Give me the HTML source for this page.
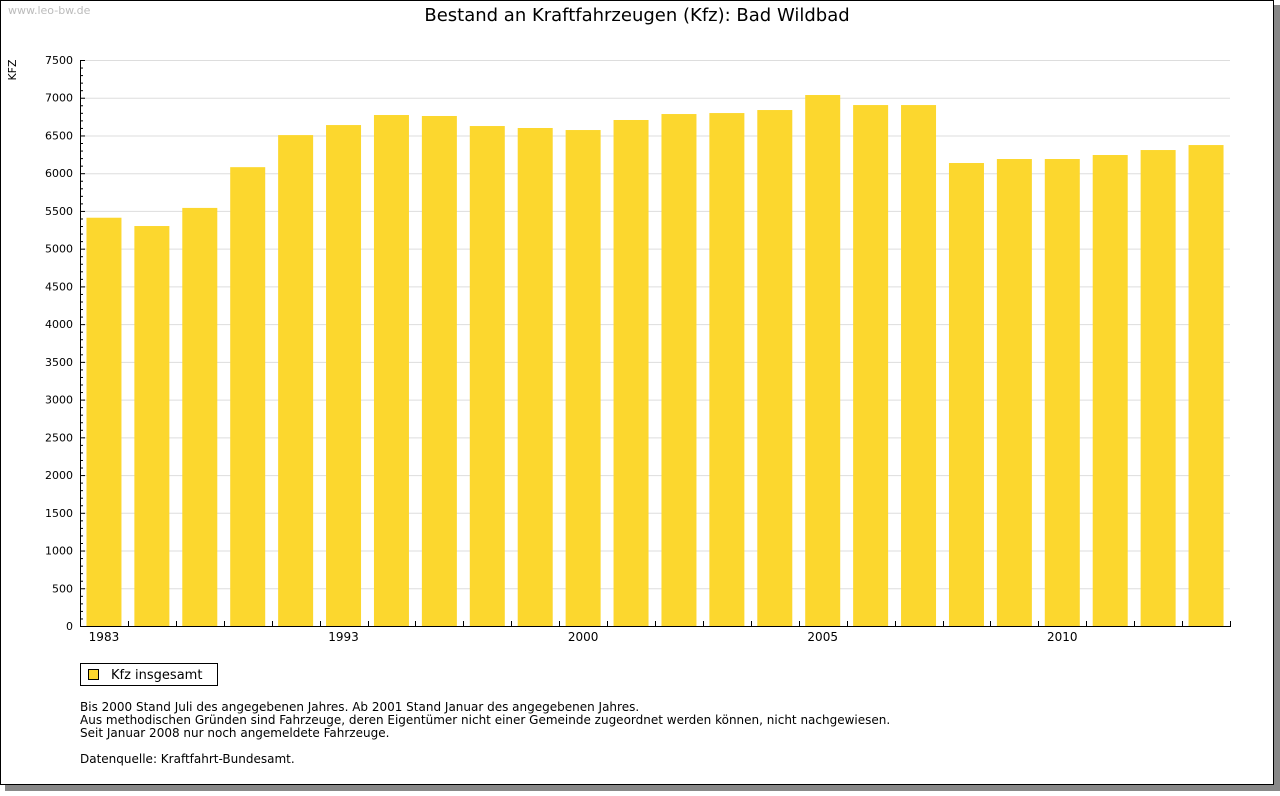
<!DOCTYPE html>
<html><head><meta charset="utf-8"><style>
body{margin:0;background:#fff;font-family:"Liberation Sans","DejaVu Sans",sans-serif}
</style></head><body>
<svg width="1280" height="791" xmlns="http://www.w3.org/2000/svg" font-family="'DejaVu Sans','Liberation Sans',sans-serif">
<rect x="5" y="5" width="1275" height="786" fill="#888"/>
<rect x="0.5" y="0.5" width="1273" height="784" fill="#fff" stroke="#000"/>
<text x="8" y="14" font-size="11" fill="#bbb">www.leo-bw.de</text>
<text x="637" y="21" font-size="18" text-anchor="middle" fill="#000">Bestand an Kraftfahrzeugen (Kfz): Bad Wildbad</text>
<text x="16" y="70" font-size="11" transform="rotate(-90 16 70)" text-anchor="middle">KFZ</text>
<g id="grid"></g><g id="bars"></g><g id="axes"></g>
<rect x="80.5" y="663.5" width="137" height="22" fill="#fff" stroke="#000"/>
<rect x="88.5" y="669.5" width="10" height="10" fill="#FCD72E" stroke="#000"/>
<text x="111" y="679" font-size="13">Kfz insgesamt</text>
<g font-size="12">
<text x="80" y="711">Bis 2000 Stand Juli des angegebenen Jahres. Ab 2001 Stand Januar des angegebenen Jahres.</text>
<text x="80" y="724">Aus methodischen Gründen sind Fahrzeuge, deren Eigentümer nicht einer Gemeinde zugeordnet werden können, nicht nachgewiesen.</text>
<text x="80" y="737">Seit Januar 2008 nur noch angemeldete Fahrzeuge.</text>
<text x="80" y="763">Datenquelle: Kraftfahrt-Bundesamt.</text>
</g>
</svg>
<script>
const categories=["1983","1985","1987","1989","1991","1993","1995","1997","1998","1999","2000","2001","2002","2003","2004","2005","2006","2007","2008","2009","2010","2011","2012","2013"];
const values=[5410,5300,5540,6080,6505,6638,6771,6758,6625,6599,6572,6705,6784,6797,6837,7036,6903,6903,6135,6188,6188,6241,6307,6373];
const shownLabels=["1983","1993","2000","2005","2010"];
const yTicks=[0,500,1000,1500,2000,2500,3000,3500,4000,4500,5000,5500,6000,6500,7000,7500];
const NS="http://www.w3.org/2000/svg";
const X0=80,X1=1230,Y0=626,Y1=60,YMAX=7500;
const band=(X1-X0)/categories.length;
const y=v=>Y0-(v/YMAX)*(Y0-Y1);
const xb=i=>X0+i*band;
function mk(t,a,p){const e=document.createElementNS(NS,t);for(const k in a)e.setAttribute(k,a[k]);p.appendChild(e);return e;}
const grid=document.getElementById('grid'),bars=document.getElementById('bars'),axes=document.getElementById('axes');
yTicks.forEach(v=>{
 if(v>0){const g=mk('line',{x1:X0,x2:X1,y1:y(v)+.5,y2:y(v)+.5,stroke:'#ddd'},grid);
 
 }
 const t=mk('text',{x:73,y:y(v)+4,'font-size':11,'text-anchor':'end'},axes);t.textContent=v;
 
 
});
for(let v=0;v<=YMAX;v+=100){mk('line',{x1:X0,x2:X0+(v%500?3:5),y1:y(v)+.5,y2:y(v)+.5,stroke:'#000'},axes);}
values.forEach((v,i)=>{
 const r=mk('rect',{x:xb(i)+(band-35)/2,y:y(v),width:35,height:Y0-y(v),fill:'#FCD72E'},bars);
 
 
 if(i>0)mk('line',{x1:Math.round(xb(i))+.5,x2:Math.round(xb(i))+.5,y1:Y0-5,y2:Y0,stroke:'#000'},axes);
 if(shownLabels.includes(categories[i])){const t=mk('text',{x:xb(i)+band/2,y:Y0+15,'font-size':12,'text-anchor':'middle'},axes);t.textContent=categories[i];
 
 }
});
const xa=mk('line',{x1:X0,x2:X1+1,y1:Y0+.5,y2:Y0+.5,stroke:'#000'},axes);


mk('line',{x1:X1+.5,x2:X1+.5,y1:Y0-5,y2:Y0,stroke:'#000'},axes);
const ya=mk('line',{x1:X0+.5,x2:X0+.5,y1:Y1,y2:Y0+1,stroke:'#000'},axes);


</script>
</body></html>
